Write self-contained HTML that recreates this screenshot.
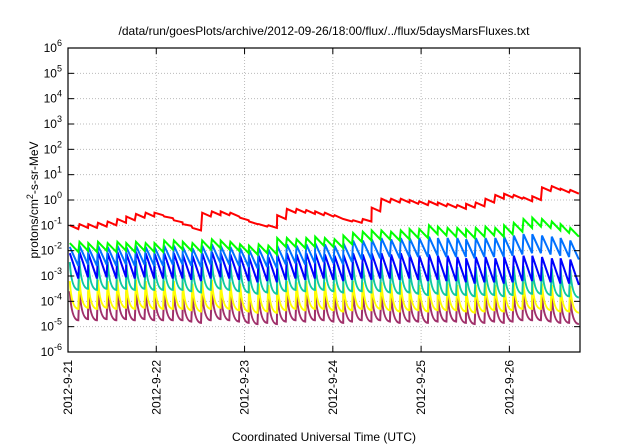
<!DOCTYPE html>
<html><head><meta charset="utf-8"><style>
html,body{margin:0;padding:0;background:#fff;}
svg{display:block;font-family:"Liberation Sans",sans-serif;}
</style></head><body>
<svg id="chart" width="640" height="448" viewBox="0 0 640 448">
<rect x="0" y="0" width="640" height="448" fill="#fff"/>
<text x="324" y="35" font-size="12" text-anchor="middle">/data/run/goesPlots/archive/2012-09-26/18:00/flux/../flux/5daysMarsFluxes.txt</text>
<g id="grid"></g>
<g id="series"></g>
<g id="axes"></g>
<text x="324" y="441" font-size="12" text-anchor="middle">Coordinated Universal Time (UTC)</text>
<text transform="translate(38,200) rotate(-90)" font-size="12" text-anchor="middle">protons/cm<tspan dy="-5" font-size="9">2</tspan><tspan dy="5">-s-sr-MeV</tspan></text>
</svg>
<script>
const yTickExps=[-6,-5,-4,-3,-2,-1,0,1,2,3,4,5,6];
const xTickLabels=["2012-9-21","2012-9-22","2012-9-23","2012-9-24","2012-9-25","2012-9-26"];
const xTickDays=[0,1,2,3,4,5];
const cycleStart=[0.02,0.13,0.23,0.34,0.45,0.56,0.66,0.77,0.88,0.98,1.09,1.20,1.30,1.41,1.52,1.63,1.73,1.84,1.95,2.05,2.16,2.27,2.37,2.48,2.59,2.70,2.80,2.91,3.02,3.12,3.23,3.34,3.44,3.55,3.66,3.77,3.87,3.98,4.09,4.19,4.30,4.41,4.51,4.62,4.73,4.84,4.94,5.05,5.16,5.26,5.37,5.48,5.58,5.69];
// log10 flux at peaks / troughs per cycle
const redPeaks=[-1.0,-0.95,-0.95,-0.9,-0.85,-0.75,-0.65,-0.55,-0.5,-0.5,-0.65,-0.8,-0.95,-1.1,-0.5,-0.45,-0.45,-0.5,-0.7,-0.85,-0.95,-1.0,-0.6,-0.35,-0.35,-0.4,-0.45,-0.5,-0.6,-0.75,-0.8,-0.75,-0.3,0.05,0.05,0.05,0.0,-0.05,-0.05,-0.1,-0.15,-0.2,-0.15,-0.1,0.05,0.2,0.25,0.2,0.1,0.15,0.5,0.55,0.45,0.4];
const redTroughs=[-1.15,-1.1,-1.1,-1.05,-1.0,-0.9,-0.8,-0.7,-0.65,-0.6,-0.72,-0.88,-1.02,-1.2,-0.65,-0.6,-0.6,-0.65,-0.8,-0.95,-1.05,-1.1,-0.75,-0.5,-0.5,-0.55,-0.6,-0.65,-0.75,-0.85,-0.9,-0.85,-0.45,-0.1,-0.1,-0.1,-0.15,-0.2,-0.2,-0.25,-0.3,-0.35,-0.3,-0.25,-0.1,0.05,0.1,0.05,-0.05,0.0,0.35,0.4,0.3,0.25];
const greenPeaks=[-1.7,-1.65,-1.7,-1.65,-1.7,-1.65,-1.7,-1.65,-1.7,-1.7,-1.6,-1.6,-1.65,-1.7,-1.6,-1.55,-1.6,-1.65,-1.75,-1.8,-1.75,-1.8,-1.5,-1.5,-1.55,-1.5,-1.45,-1.5,-1.55,-1.4,-1.3,-1.25,-1.2,-1.2,-1.25,-1.2,-1.15,-1.15,-1.0,-1.05,-1.1,-1.1,-1.15,-1.1,-1.05,-1.1,-1.0,-0.9,-0.75,-0.7,-0.75,-0.85,-0.95,-1.1];
const greenTroughs=[-2.05,-2.0,-2.05,-2.0,-2.05,-2.0,-2.05,-2.0,-2.05,-2.05,-1.95,-1.95,-2.0,-2.05,-1.95,-1.9,-1.95,-2.0,-2.1,-2.15,-2.1,-2.15,-1.85,-1.85,-1.9,-1.85,-1.8,-1.85,-1.9,-1.75,-1.65,-1.6,-1.55,-1.55,-1.6,-1.55,-1.5,-1.5,-1.35,-1.4,-1.45,-1.45,-1.5,-1.45,-1.4,-1.45,-1.35,-1.25,-1.1,-1.05,-1.1,-1.2,-1.3,-1.45];
const lbluePeaks=[-1.85,-1.8,-1.85,-1.8,-1.85,-1.8,-1.85,-1.8,-1.85,-1.85,-1.8,-1.8,-1.85,-1.9,-1.8,-1.75,-1.8,-1.85,-1.9,-1.95,-1.9,-1.95,-1.8,-1.75,-1.8,-1.75,-1.7,-1.75,-1.8,-1.7,-1.6,-1.6,-1.55,-1.5,-1.55,-1.5,-1.5,-1.5,-1.45,-1.5,-1.5,-1.5,-1.55,-1.5,-1.5,-1.5,-1.45,-1.4,-1.35,-1.35,-1.4,-1.45,-1.5,-1.6];
const lblueTroughs=[-2.6,-2.55,-2.6,-2.55,-2.6,-2.55,-2.6,-2.55,-2.6,-2.6,-2.55,-2.55,-2.6,-2.65,-2.55,-2.5,-2.55,-2.6,-2.65,-2.7,-2.65,-2.7,-2.55,-2.5,-2.55,-2.5,-2.45,-2.5,-2.55,-2.45,-2.35,-2.35,-2.3,-2.25,-2.3,-2.25,-2.25,-2.25,-2.2,-2.25,-2.25,-2.25,-2.3,-2.25,-2.25,-2.25,-2.2,-2.15,-2.1,-2.1,-2.15,-2.2,-2.25,-2.35];
const bluePeaks=[-2.1,-2.05,-2.1,-2.05,-2.1,-2.05,-2.1,-2.05,-2.1,-2.1,-2.1,-2.1,-2.15,-2.2,-2.1,-2.05,-2.1,-2.15,-2.2,-2.25,-2.2,-2.25,-2.15,-2.1,-2.15,-2.1,-2.1,-2.15,-2.2,-2.15,-2.1,-2.15,-2.1,-2.1,-2.15,-2.1,-2.15,-2.2,-2.15,-2.2,-2.2,-2.25,-2.3,-2.25,-2.25,-2.3,-2.25,-2.2,-2.2,-2.2,-2.25,-2.3,-2.3,-2.35];
const blueTroughs=[-3.1,-3.05,-3.1,-3.05,-3.1,-3.05,-3.1,-3.05,-3.1,-3.1,-3.1,-3.1,-3.15,-3.2,-3.1,-3.05,-3.1,-3.15,-3.2,-3.25,-3.2,-3.25,-3.15,-3.1,-3.15,-3.1,-3.1,-3.15,-3.2,-3.15,-3.1,-3.15,-3.1,-3.1,-3.15,-3.1,-3.15,-3.2,-3.15,-3.2,-3.2,-3.25,-3.3,-3.25,-3.25,-3.3,-3.25,-3.2,-3.2,-3.2,-3.25,-3.3,-3.3,-3.35];
const tealPeaks=[-2.45,-2.4,-2.45,-2.4,-2.45,-2.4,-2.45,-2.4,-2.45,-2.45,-2.45,-2.45,-2.5,-2.55,-2.45,-2.4,-2.45,-2.5,-2.55,-2.6,-2.55,-2.6,-2.5,-2.45,-2.5,-2.45,-2.45,-2.5,-2.55,-2.5,-2.45,-2.5,-2.45,-2.5,-2.55,-2.5,-2.55,-2.6,-2.55,-2.6,-2.6,-2.65,-2.7,-2.65,-2.65,-2.7,-2.65,-2.6,-2.6,-2.6,-2.65,-2.7,-2.7,-2.75];
const tealTroughs=[-3.55,-3.5,-3.55,-3.5,-3.55,-3.5,-3.55,-3.5,-3.55,-3.55,-3.55,-3.55,-3.6,-3.65,-3.55,-3.5,-3.55,-3.6,-3.65,-3.7,-3.65,-3.7,-3.6,-3.55,-3.6,-3.55,-3.55,-3.6,-3.65,-3.6,-3.6,-3.65,-3.6,-3.65,-3.7,-3.65,-3.7,-3.75,-3.7,-3.75,-3.75,-3.75,-3.8,-3.75,-3.75,-3.8,-3.75,-3.7,-3.7,-3.7,-3.75,-3.8,-3.8,-3.85];
const yellowPeaks=[-3.2,-3.15,-3.2,-3.15,-3.2,-3.15,-3.2,-3.15,-3.2,-3.2,-3.2,-3.2,-3.25,-3.3,-3.2,-3.15,-3.2,-3.25,-3.3,-3.35,-3.3,-3.35,-3.25,-3.2,-3.25,-3.2,-3.2,-3.25,-3.3,-3.25,-3.2,-3.25,-3.2,-3.25,-3.3,-3.25,-3.3,-3.35,-3.3,-3.3,-3.3,-3.35,-3.4,-3.35,-3.3,-3.35,-3.3,-3.25,-3.25,-3.25,-3.3,-3.35,-3.35,-3.4];
const yellowTroughs=[-4.3,-4.25,-4.3,-4.25,-4.3,-4.25,-4.3,-4.25,-4.3,-4.3,-4.3,-4.3,-4.35,-4.4,-4.3,-4.25,-4.3,-4.35,-4.4,-4.45,-4.4,-4.45,-4.35,-4.3,-4.35,-4.3,-4.3,-4.35,-4.4,-4.35,-4.3,-4.35,-4.3,-4.35,-4.4,-4.35,-4.35,-4.4,-4.35,-4.35,-4.35,-4.4,-4.45,-4.4,-4.35,-4.4,-4.35,-4.3,-4.3,-4.3,-4.35,-4.4,-4.4,-4.45];
const purplePeaks=[-3.6,-3.5,-3.6,-3.55,-3.6,-3.5,-3.6,-3.55,-3.6,-3.6,-3.6,-3.6,-3.65,-3.7,-3.6,-3.5,-3.6,-3.65,-3.7,-3.75,-3.7,-3.75,-3.65,-3.6,-3.65,-3.6,-3.6,-3.65,-3.7,-3.65,-3.6,-3.65,-3.6,-3.65,-3.7,-3.65,-3.7,-3.75,-3.7,-3.75,-3.75,-3.8,-3.85,-3.8,-3.75,-3.8,-3.75,-3.7,-3.7,-3.7,-3.75,-3.8,-3.8,-3.85];
const purpleTroughs=[-4.75,-4.7,-4.75,-4.7,-4.75,-4.7,-4.75,-4.7,-4.75,-4.75,-4.75,-4.75,-4.8,-4.85,-4.75,-4.7,-4.75,-4.8,-4.85,-4.9,-4.85,-4.9,-4.8,-4.75,-4.8,-4.75,-4.75,-4.8,-4.85,-4.8,-4.75,-4.8,-4.75,-4.8,-4.85,-4.8,-4.8,-4.85,-4.8,-4.8,-4.8,-4.85,-4.9,-4.85,-4.8,-4.85,-4.8,-4.75,-4.75,-4.75,-4.8,-4.85,-4.85,-4.9];

const NS="http://www.w3.org/2000/svg";
const L=68,R=580,T=48,B=352,yMin=-6,yMax=6,dMin=0,dMax=5.8;
function xs(d){return L+(d-dMin)/(dMax-dMin)*(R-L);}
function ys(v){return T+(yMax-v)/(yMax-yMin)*(B-T);}
const grid=document.getElementById('grid'),axes=document.getElementById('axes'),ser=document.getElementById('series');
function mk(tag,attrs,parent){const e=document.createElementNS(NS,tag);for(const k in attrs)e.setAttribute(k,attrs[k]);parent.appendChild(e);return e;}

yTickExps.forEach(function(e){
  const y=ys(e);
  if(e>yMin&&e<yMax){
    const g=mk('line',{x1:L,x2:R,y1:y,y2:y,stroke:'#bbb','stroke-width':1,'stroke-dasharray':'1,2'},grid);
    
    
  }
  mk('line',{x1:L,x2:L+6,y1:y,y2:y,stroke:'#000','stroke-width':1},axes);
  mk('line',{x1:R-6,x2:R,y1:y,y2:y,stroke:'#000','stroke-width':1},axes);
  const t=mk('text',{x:L-8,y:y+4,'font-size':12,'text-anchor':'end'},axes);
  
  
  const s1=document.createElementNS(NS,'tspan');s1.textContent='10';t.appendChild(s1);
  const s2=document.createElementNS(NS,'tspan');s2.setAttribute('dy','-6');s2.setAttribute('font-size','9');s2.textContent=String(e);t.appendChild(s2);
  t.setAttribute('x',L-6);
});
xTickDays.forEach(function(d,i){
  const x=xs(d);
  if(d>dMin){
    const g=mk('line',{x1:x,x2:x,y1:T,y2:B,stroke:'#bbb','stroke-width':1,'stroke-dasharray':'1,2'},grid);
    
    
  }
  mk('line',{x1:x,x2:x,y1:B,y2:B-6,stroke:'#000','stroke-width':1},axes);
  mk('line',{x1:x,x2:x,y1:T,y2:T+6,stroke:'#000','stroke-width':1},axes);
  const t=mk('text',{transform:'translate('+(x+4)+','+(B+8)+') rotate(-90)','font-size':12,'text-anchor':'end'},axes);
  t.textContent=xTickLabels[i];
  
  
});
const frame=mk('rect',{x:L,y:T,width:R-L,height:B-T,fill:'none',stroke:'#000','stroke-width':1.2},axes);



function draw(peaks,troughs,color,name,curved){
  let d='';
  for(let k=0;k<cycleStart.length;k++){
    const t0=cycleStart[k],t1=t0+0.097;
    const px=xs(t0),py=ys(peaks[k]),tx=xs(t1),ty=ys(troughs[k]);
    d+=(k===0?'M':'L')+px.toFixed(1)+','+py.toFixed(1);
    if(curved){const cx=px+(tx-px)*0.2;d+='Q'+cx.toFixed(1)+','+ty.toFixed(1)+' '+tx.toFixed(1)+','+ty.toFixed(1);}
    else d+='L'+tx.toFixed(1)+','+ty.toFixed(1);
  }
  const p=mk('path',{d:d,fill:'none',stroke:color,'stroke-width':2,'stroke-linejoin':'miter'},ser);
  
  
}
draw(purplePeaks,purpleTroughs,'#a0306a','series-purple',true);
draw(yellowPeaks,yellowTroughs,'#ffff00','series-yellow',true);
draw(tealPeaks,tealTroughs,'#10c8a0','series-teal',true);
draw(bluePeaks,blueTroughs,'#0000ff','series-blue',false);
draw(lbluePeaks,lblueTroughs,'#0070ff','series-light-blue',false);
draw(greenPeaks,greenTroughs,'#00ff00','series-green',false);
draw(redPeaks,redTroughs,'#ff0000','series-red',false);
</script>
</body></html>
